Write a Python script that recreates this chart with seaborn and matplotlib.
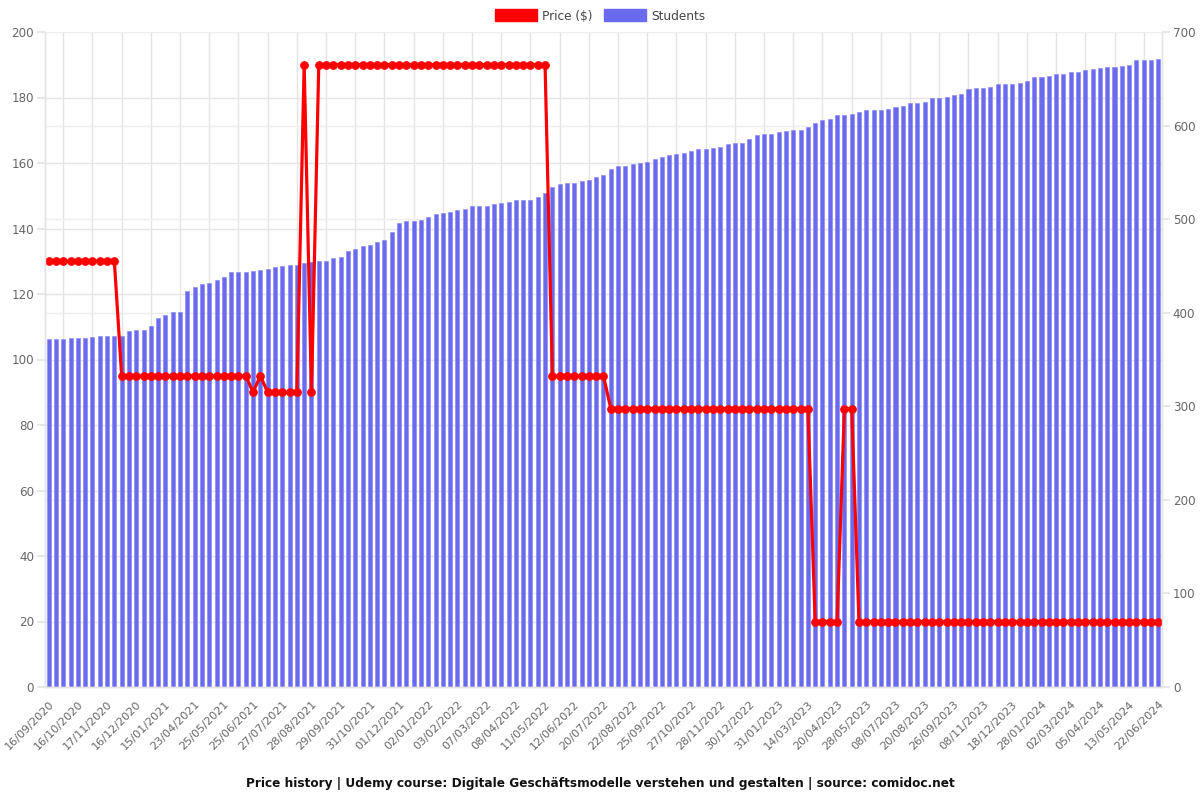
import matplotlib
matplotlib.use("Agg")
import matplotlib.pyplot as plt
from matplotlib.patches import Patch
import seaborn as sns
import pandas as pd

# ---------------- data ----------------
price = [
    130, 130, 130, 130, 130, 130, 130, 130, 130, 130,
    95, 95, 95, 95, 95, 95, 95, 95, 95, 95, 95, 95, 95, 95, 95, 95, 95, 95,
    90, 95, 90, 90, 90, 90, 90, 190, 90,
    190, 190, 190, 190, 190, 190, 190, 190, 190, 190, 190, 190, 190, 190, 190, 190,
    190, 190, 190, 190, 190, 190, 190, 190, 190, 190, 190, 190, 190, 190, 190, 190,
    95, 95, 95, 95, 95, 95, 95, 95,
    85, 85, 85, 85, 85, 85, 85, 85, 85, 85, 85, 85, 85, 85,
    85, 85, 85, 85, 85, 85, 85, 85, 85, 85, 85, 85, 85, 85,
    20, 20, 20, 20, 85, 85,
    20, 20, 20, 20, 20, 20, 20, 20, 20, 20, 20, 20, 20, 20, 20, 20, 20, 20, 20, 20, 20,
    20, 20, 20, 20, 20, 20, 20, 20, 20, 20, 20, 20, 20, 20, 20, 20, 20, 20, 20, 20, 20,
]

students = [
    372, 372, 372, 373, 373, 373, 374, 375, 375, 375,
    375, 380, 381, 382, 386, 394, 398, 401, 401, 423,
    427, 431, 432, 435, 438, 443, 443, 444, 445, 446,
    447, 449, 450, 451, 451, 453, 454, 455, 455, 459,
    460, 466, 468, 471, 472, 476, 478, 486, 496, 498,
    498, 499, 502, 506, 507, 508, 510, 511, 514, 514,
    514, 516, 517, 518, 520, 520, 520, 524, 528, 534,
    538, 539, 539, 541, 542, 545, 547, 554, 557, 557,
    559, 560, 561, 564, 566, 569, 570, 571, 573, 575,
    575, 576, 577, 580, 581, 581, 586, 590, 591, 591,
    593, 594, 595, 595, 598, 603, 606, 607, 611, 611,
    612, 614, 617, 617, 617, 618, 620, 621, 624, 624,
    625, 630, 630, 631, 633, 634, 639, 640, 640, 641,
    644, 644, 644, 645, 648, 652, 652, 653, 655, 655,
    657, 657, 659, 660, 661, 663, 663, 664, 665, 670,
    670, 670, 671,
]

tick_labels = [
    "16/09/2020", "16/10/2020", "17/11/2020", "16/12/2020", "15/01/2021",
    "23/04/2021", "25/05/2021", "25/06/2021", "27/07/2021", "28/08/2021",
    "29/09/2021", "31/10/2021", "01/12/2021", "02/01/2022", "03/02/2022",
    "07/03/2022", "08/04/2022", "11/05/2022", "12/06/2022", "20/07/2022",
    "22/08/2022", "25/09/2022", "27/10/2022", "28/11/2022", "30/12/2022",
    "31/01/2023", "14/03/2023", "20/04/2023", "28/05/2023", "08/07/2023",
    "20/08/2023", "26/09/2023", "08/11/2023", "18/12/2023", "28/01/2024",
    "02/03/2024", "05/04/2024", "13/05/2024", "22/06/2024",
]

price_ticks = [0, 20, 40, 60, 80, 100, 120, 140, 160, 180, 200]
student_ticks = [0, 100, 200, 300, 400, 500, 600, 700]

title = ("Price history | Udemy course: Digitale Geschäftsmodelle verstehen "
         "und gestalten | source: comidoc.net")

# ---------------- styling ----------------
BAR_COLOR = "#6A6AEE"
LINE_COLOR = "#FF0000"
GRID = "#E4E4E4"
TEXT = "#666666"

sns.set_theme(style="white")
plt.rcParams["font.family"] = ["DejaVu Sans"]

n = len(students)
idx = list(range(n))
df = pd.DataFrame({"idx": idx, "price": price, "students": students})

fig = plt.figure(figsize=(12, 8), dpi=100)
# bottom axes: students bars + all grid lines (so the grid sits behind bars)
ax_s = fig.add_axes([0.0375, 0.14125, 0.9308, 0.81875])
# top axes: price line
ax_p = ax_s.twinx()

sns.barplot(data=df, x="idx", y="students", ax=ax_s, color=BAR_COLOR,
            saturation=1, width=0.55, edgecolor="#8585F1", linewidth=0.4)

sns.lineplot(data=df, x="idx", y="price", ax=ax_p, color=LINE_COLOR,
             linewidth=2.3, marker="o", markersize=5.5,
             markeredgecolor=LINE_COLOR, markerfacecolor=LINE_COLOR)

ax_p.set_zorder(ax_s.get_zorder() + 1)
ax_p.patch.set_visible(False)

for a in (ax_s, ax_p):
    a.set_xlim(-0.5, n - 0.5)
    a.set_xlabel("")
    a.set_ylabel("")

ax_s.set_ylim(0, 700)
ax_p.set_ylim(0, 200)

# axis sides: price on the left, students on the right
ax_s.yaxis.tick_right()
ax_p.yaxis.tick_left()
ax_s.set_yticks(student_ticks)
ax_p.set_yticks(price_ticks)

# price grid lines drawn on the bar axes (behind the bars)
ax_s.set_yticks([t * 700 / 200 for t in price_ticks], minor=True)

# x ticks: labels every 4 bars, grid lines between labelled bars
label_pos = idx[::4]
grid_pos = [p + 2 for p in label_pos[:-1]]
ax_s.set_xticks(label_pos)
ax_s.set_xticklabels(tick_labels, rotation=45, ha="right",
                     rotation_mode="anchor", color=TEXT, fontsize=8.1)
ax_s.set_xticks(grid_pos, minor=True)
ax_s.tick_params(axis="x", which="major", length=0, pad=9)
ax_s.tick_params(axis="x", which="minor", length=5.8, color=GRID, width=1)
ax_s.tick_params(axis="y", which="major", length=5.8, color=GRID,
                 labelcolor=TEXT, labelsize=8.6, pad=2)
ax_s.tick_params(axis="y", which="minor", length=0)
ax_p.tick_params(axis="y", which="major", length=5.8, color=GRID,
                 labelcolor=TEXT, labelsize=8.6, pad=2)

ax_s.grid(False)
ax_p.grid(False)
ax_s.set_axisbelow(True)
ax_s.xaxis.grid(True, which="minor", color=GRID, linewidth=1)
ax_s.yaxis.grid(True, which="minor", color=GRID, linewidth=1)
ax_s.yaxis.grid(True, which="major", color="#EEEEEE", linewidth=1)

for a in (ax_s, ax_p):
    for s in a.spines.values():
        s.set_color(GRID)
        s.set_linewidth(1)
    a.spines["top"].set_visible(False)

# legend
handles = [Patch(facecolor=LINE_COLOR, edgecolor=LINE_COLOR, label="Price ($)"),
           Patch(facecolor=BAR_COLOR, edgecolor=BAR_COLOR, label="Students")]
fig.legend(handles=handles, loc="center", bbox_to_anchor=(0.5, 0.98),
           ncol=2, frameon=False, fontsize=8.7, handlelength=3.5,
           handleheight=1.15, columnspacing=0.9, handletextpad=0.45,
           labelcolor="#444444")

fig.text(0.5, 0.021, title, ha="center", va="center",
         fontsize=8.7, fontweight="bold", color="#111111")

fig.savefig("out.png", dpi=100)
